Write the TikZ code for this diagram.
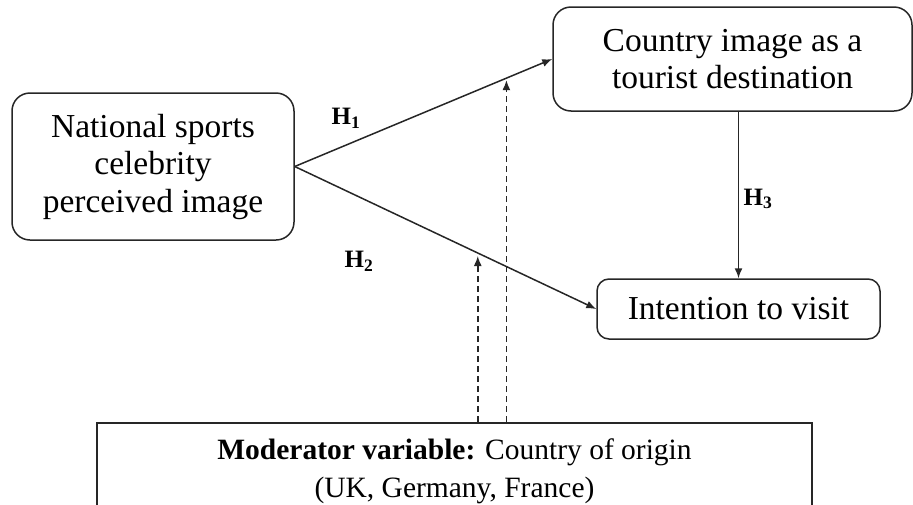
\documentclass[tikz,border=0pt]{standalone}
\usepackage{fontspec}
\setmainfont{Liberation Serif}
\usetikzlibrary{arrows.meta}

\tikzset{
	box/.style={draw=black!85, line width=1.5pt, rounded corners=18pt, align=center,
		inner sep=0pt, font=\fontsize{33.5}{37.5}\selectfont},
	modbox/.style={draw=black!85, line width=1.5pt, align=center, inner sep=0pt,
		font=\fontsize{29.5}{38}\selectfont},
	hyp/.style={font=\fontsize{25}{30}\selectfont\bfseries},
	link/.style={line width=1.5pt, draw=black!85, -{Latex[length=10pt,width=8pt]}},
	modlink/.style={link, dash pattern=on 6pt off 4pt}
}

\begin{document}
\begin{tikzpicture}[x=1pt,y=-1pt]
	\useasboundingbox (0,0) rectangle (913,504);

	\node[box, minimum width=282pt, minimum height=147pt] (celeb) at (153,166.5)
		{National sports\\celebrity\\perceived image};
	\node[box, minimum width=359pt, minimum height=104pt] (dest) at (732.5,59)
		{Country image as a\\tourist destination};
	\node[box, minimum width=283pt, minimum height=60pt, rounded corners=12pt] (visit) at (738.5,309)
		{Intention to visit};
	\node[modbox, minimum width=715pt, minimum height=98pt, anchor=north] (mod) at (454.5,422)
		{\textbf{Moderator variable:} Country of origin\\(UK, Germany, France)};

	\draw[link] (celeb.east) -- (dest.west) coordinate[pos=0.822] (onhone);
	\draw[link] (celeb.east) -- (visit.west) coordinate[pos=0.607] (onhtwo);
	\draw[link] (visit.north |- dest.south) -- (visit.north);

	% moderator effects
	\draw[modlink, shorten >=3pt] (onhtwo |- mod.north) -- (onhtwo);
	\draw[modlink, shorten >=2pt] (onhone |- mod.north) -- (onhone);

	\node[hyp] (hone) at (346,118) {H\textsubscript{1}};
	\node[hyp] (htwo) at (359,261) {H\textsubscript{2}};
	\node[hyp] (hthree) at (758,199) {H\textsubscript{3}};
\end{tikzpicture}
\end{document}
